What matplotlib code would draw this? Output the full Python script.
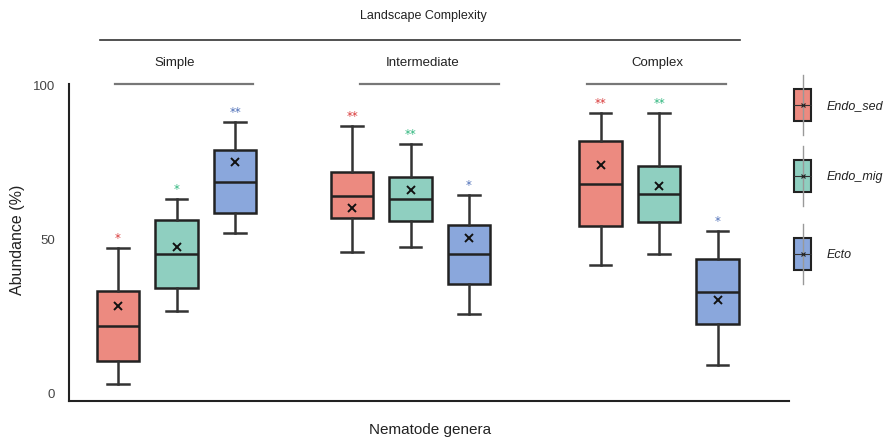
import matplotlib
matplotlib.use("Agg")
import matplotlib.pyplot as plt
from matplotlib.lines import Line2D
from matplotlib.patches import Rectangle

plt.rcParams['font.family'] = ['Liberation Sans', 'DejaVu Sans']

# Landscape groups and nematode feeding types
groups = ["Simple", "Intermediate", "Complex"]
series = ["Endo_sed", "Endo_mig", "Ecto"]

# Box summary statistics per series, one value per landscape group
whislo = {
    "Endo_sed": [2.6, 45.6, 41.4],
    "Endo_mig": [26.4, 47.2, 45.0],
    "Ecto":     [51.8, 25.4, 8.8],
}
q1 = {
    "Endo_sed": [10.1, 56.7, 54.1],
    "Endo_mig": [33.9, 55.7, 55.4],
    "Ecto":     [58.3, 35.2, 22.1],
}
med = {
    "Endo_sed": [21.5, 63.8, 67.8],
    "Endo_mig": [44.9, 62.9, 64.5],
    "Ecto":     [68.4, 44.9, 32.6],
}
q3 = {
    "Endo_sed": [32.9, 71.7, 81.8],
    "Endo_mig": [56.0, 70.0, 73.6],
    "Ecto":     [78.8, 54.4, 43.3],
}
whishi = {
    "Endo_sed": [46.9, 86.6, 90.9],
    "Endo_mig": [62.9, 80.8, 90.9],
    "Ecto":     [87.9, 64.2, 52.4],
}
means = {
    "Endo_sed": [28.0, 59.9, 73.9],
    "Endo_mig": [47.2, 65.8, 67.1],
    "Ecto":     [74.9, 50.2, 30.0],
}
signif = {
    "Endo_sed": ["*", "**", "**"],
    "Endo_mig": ["*", "**", "**"],
    "Ecto":     ["**", "*", "*"],
}

fills = {"Endo_sed": "#EC8A80", "Endo_mig": "#8FCFC0", "Ecto": "#8AA7DC"}
star_colors = {"Endo_sed": "#D93A3A", "Endo_mig": "#2EB67D", "Ecto": "#4D6FB8"}

group_starts = [0.0, 4.0, 8.25]
box_w = 0.73

W, H = 884, 439
fig = plt.figure(figsize=(W / 100, H / 100), dpi=100)
ax = fig.add_axes([69 / W, 1 - 402 / H, (789 - 69) / W, (402 - 85) / H])

for si, s in enumerate(series):
    stats = []
    pos = []
    for gi in range(len(groups)):
        stats.append(dict(whislo=whislo[s][gi], q1=q1[s][gi], med=med[s][gi],
                          q3=q3[s][gi], whishi=whishi[s][gi], mean=means[s][gi],
                          fliers=[]))
        pos.append(group_starts[gi] + si)
    ax.bxp(stats, positions=pos, widths=box_w, patch_artist=True,
           showmeans=True, showfliers=False, capwidths=0.37,
           boxprops=dict(facecolor=fills[s], edgecolor="#222222", linewidth=1.8),
           medianprops=dict(color="#222222", linewidth=1.8),
           whiskerprops=dict(color="#333333", linewidth=1.8),
           capprops=dict(color="#333333", linewidth=1.8),
           meanprops=dict(marker="x", markeredgecolor="#111111",
                          markersize=6, markeredgewidth=1.4))
    for gi in range(len(groups)):
        ax.annotate(signif[s][gi], xy=(pos[gi], whishi[s][gi]),
                    xytext=(0, 3), textcoords="offset points",
                    ha="center", va="bottom", fontsize=8.5,
                    color=star_colors[s], fontfamily="DejaVu Sans")

ax.set_xlim(-0.838, 11.47)
ax.set_ylim(-2.9, 100.3)
ax.set_yticks([0, 50, 100])
ax.set_yticklabels(["0", "50", "100"])
ax.set_xticks([])
ax.tick_params(axis="y", length=0, pad=10, labelsize=9.5, labelcolor="#444444")
for side in ("top", "right"):
    ax.spines[side].set_visible(False)
for side in ("left", "bottom"):
    ax.spines[side].set_color("#222222")
    ax.spines[side].set_linewidth(1.5)

fig.text(18 / W, 1 - 240 / H, "Abundance (%)", rotation=90, ha="center",
         va="center", fontsize=11.5, color="#222222")
fig.text(430 / W, 1 - 430 / H, "Nematode genera", ha="center", va="center",
         fontsize=11, color="#222222")

# Header: landscape complexity and its three levels
fig.text(423 / W, 1 - 16 / H, "Landscape Complexity", ha="center",
         va="center", fontsize=9, color="#222222")
fig.add_artist(Line2D([100 / W, 740 / W], [1 - 41 / H, 1 - 41 / H],
                      transform=fig.transFigure, color="#333333", lw=1.2))
label_x = [175, 423, 657]
line_spans = [(115, 253), (360, 499), (587, 726)]
for g, lx, (x0, x1) in zip(groups, label_x, line_spans):
    fig.text(lx / W, 1 - 63 / H, g, ha="center", va="center", fontsize=9.5,
             color="#222222")
    fig.add_artist(Line2D([x0 / W, x1 / W], [1 - 85 / H, 1 - 85 / H],
                          transform=fig.transFigure, color="#777777", lw=1.6))

# Legend glyphs on the right
legend_y = [106, 177, 255]
for s, cy in zip(series, legend_y):
    cx = 802.5
    fig.add_artist(Line2D([cx / W, cx / W], [1 - (cy - 30) / H, 1 - (cy + 30) / H],
                          transform=fig.transFigure, color="#999999", lw=1.0))
    fig.add_artist(Rectangle(((cx - 8.5) / W, 1 - (cy + 16) / H), 17 / W, 32 / H,
                             transform=fig.transFigure, facecolor=fills[s],
                             edgecolor="#222222", lw=1.5))
    fig.add_artist(Line2D([(cx - 8.5) / W, (cx + 8.5) / W], [1 - cy / H, 1 - cy / H],
                          transform=fig.transFigure, color="#333333", lw=0.8))
    fig.add_artist(Line2D([cx / W], [1 - cy / H], transform=fig.transFigure,
                          marker="x", markersize=3, markeredgewidth=0.8,
                          color="#222222", linestyle="none"))
    fig.text(827 / W, 1 - cy / H, s, ha="left", va="center", fontsize=9,
             style="italic", color="#222222")

fig.savefig("out.png", dpi=100)
